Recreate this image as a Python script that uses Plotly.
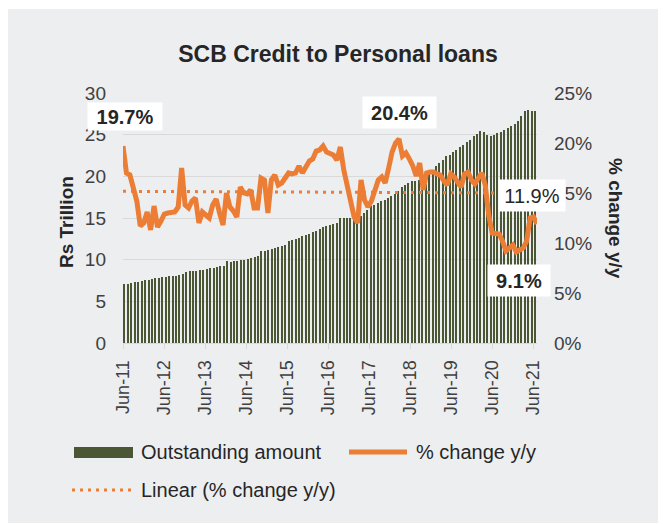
import numpy as np
import pandas as pd
import plotly.graph_objects as go

# ---------------- data ----------------
months = pd.date_range("2011-06-01", periods=121, freq="MS")

outstanding = [
    7.1, 7.1, 7.2, 7.3, 7.3, 7.4, 7.6, 7.6, 7.7, 7.8, 7.8, 7.9,
    7.9, 8.0, 8.0, 8.1, 8.2, 8.3, 8.5, 8.6, 8.6, 8.7, 8.8, 8.8,
    8.9, 9.0, 9.0, 9.1, 9.2, 9.3, 9.8, 9.7, 9.8, 9.9, 10.0, 10.0,
    10.1, 10.2, 10.3, 10.5, 11.0, 11.1, 11.2, 11.3, 11.4, 11.5, 11.6, 11.8,
    12.2, 12.4, 12.5, 12.6, 12.8, 13.0, 13.1, 13.3, 13.5, 13.7, 13.9, 14.0,
    14.2, 14.3, 14.4, 15.0, 15.0, 15.0, 15.0, 15.1, 15.1, 15.2, 15.6, 16.0,
    16.4, 16.6, 16.8, 17.0, 17.2, 17.4, 17.6, 17.9, 18.3, 18.7, 19.0, 19.2,
    19.4, 19.5, 19.6, 19.9, 20.2, 20.5, 20.8, 21.3, 21.6, 22.0, 22.4, 22.6,
    22.9, 23.2, 23.5, 23.8, 24.1, 24.4, 24.8, 25.1, 25.4, 25.3, 25.0, 24.9,
    25.0, 25.2, 25.3, 25.6, 25.8, 26.0, 26.3, 26.7, 27.3, 27.8, 28.0, 27.9,
    27.8,
]

pct_change = [
    19.7, 17.0, 16.8, 15.3, 14.2, 11.7, 12.0, 13.1, 11.3, 13.7, 11.6, 12.2,
    12.9, 13.0, 13.0, 13.1, 13.6, 17.5, 13.8, 13.5, 14.2, 14.5, 12.0, 13.1,
    12.8, 12.5, 13.8, 14.4, 13.0, 11.8, 15.0, 13.6, 13.2, 12.6, 15.6, 15.0,
    14.9, 15.3, 13.5, 13.5, 16.5, 16.3, 13.0, 16.3, 16.8, 15.8, 16.0, 16.5,
    17.0, 16.9, 17.0, 17.7, 17.0, 17.6, 18.2, 18.4, 19.2, 19.3, 19.7, 19.1,
    18.9, 18.8, 18.3, 19.6, 17.3, 15.6, 13.8, 12.6, 12.0, 16.3, 14.3, 13.6,
    14.2, 15.3, 16.3, 16.6, 16.0, 17.5, 19.1, 20.0, 20.4, 18.7, 19.0, 18.4,
    17.7, 16.7, 18.0, 15.3, 17.0, 17.1, 17.1, 16.9, 16.8, 16.2, 15.8, 16.9,
    16.6, 16.1, 15.6, 16.9, 17.1, 16.3, 15.9, 16.5, 17.0, 15.8, 12.8, 11.0,
    10.9, 10.9, 10.2, 9.2, 9.5, 9.8, 9.1, 9.3, 9.5, 10.2, 12.5, 12.6,
    11.9,
]

callout_labels = ["19.7%", "20.4%", "11.9%", "9.1%"]

title_text = "SCB Credit to Personal loans"
left_title = "Rs Trillion"
right_title = "% change y/y"
legend_names = ["Outstanding amount", "% change y/y", "Linear (% change y/y)"]

# ---------------- layout helpers ----------------
OFF = 8  # page body margin
W, H = 666 - OFF, 524 - OFF
L, R, T, B = 115, 129, 85, 181
PW, PH = W - L - R, H - T - B


def fx(px):
    return (px - OFF - L) / PW


def fy(py):
    return 1 - (py - OFF - T) / PH


FONT = "Arial, Liberation Sans, sans-serif"
ORANGE = "#EC7D35"
GREEN = "#4A5634"
GRID = "#D9D9D9"
TXT = "#262626"
TICK = "#404040"

idx = np.arange(len(pct_change))
slope, intercept = np.polyfit(idx, np.array(pct_change), 1)
trend = intercept + slope * idx

fig = go.Figure()

fig.add_trace(go.Bar(
    x=months, y=outstanding, name=legend_names[0],
    xperiod="M1", xperiodalignment="middle",
    width=0.42 * 30.44 * 86400000,
    marker=dict(color=GREEN, line=dict(width=0)),
    showlegend=False,
))

fig.add_trace(go.Scatter(
    x=idx, y=trend, name=legend_names[2], mode="lines",
    line=dict(color=ORANGE, width=3, dash="3px,5px"),
    xaxis="x2", yaxis="y2", showlegend=False,
))

fig.add_trace(go.Scatter(
    x=idx, y=pct_change, name=legend_names[1], mode="lines",
    line=dict(color=ORANGE, width=5),
    xaxis="x2", yaxis="y2", showlegend=False,
))

annotations = []
# callout label boxes: (center x, center y, width, height, bold) in page pixels
box = {
    "19.7%": (125, 116.5, 74, 27, True),
    "20.4%": (399.5, 112.5, 73, 31, True),
    "11.9%": (532, 195.5, 66, 31, False),
    "9.1%": (519, 280.5, 62, 31, True),
}
for txt in callout_labels:
    cx, cy, w, h, bold = box[txt]
    annotations.append(dict(
        xref="paper", yref="paper", x=fx(cx), y=fy(cy),
        xanchor="center", yanchor="middle",
        text=f"<b>{txt}</b>" if bold else txt, showarrow=False,
        bgcolor="white", borderpad=0, width=w, height=h,
        font=dict(family=FONT, size=20, color=TXT),
    ))

# axis titles
annotations.append(dict(
    xref="paper", yref="paper", x=fx(66), y=fy(222),
    xanchor="center", yanchor="middle", textangle=-90,
    text=f"<b>{left_title}</b>", showarrow=False,
    font=dict(family=FONT, size=19, color=TXT),
))
annotations.append(dict(
    xref="paper", yref="paper", x=fx(616), y=fy(218),
    xanchor="center", yanchor="middle", textangle=90,
    text=f"<b>{right_title}</b>", showarrow=False,
    font=dict(family=FONT, size=19, color=TXT),
))

# manual legend
legend_pos = [(139, 452), (414, 452), (139, 490)]
for name, (lx, ly) in zip(legend_names, legend_pos):
    annotations.append(dict(
        xref="paper", yref="paper", x=fx(lx), y=fy(ly),
        xanchor="left", yanchor="middle", text=name, showarrow=False,
        font=dict(family=FONT, size=20, color=TXT),
    ))

shapes = [
    dict(type="rect", xref="paper", yref="paper", layer="below",
         x0=fx(5), x1=fx(667), y0=fy(523), y1=fy(9),
         fillcolor="#EDEEF0", line=dict(width=0)),
    dict(type="rect", xref="paper", yref="paper",
         x0=fx(74), x1=fx(133), y0=fy(458), y1=fy(447),
         fillcolor=GREEN, line=dict(width=0)),
    dict(type="line", xref="paper", yref="paper",
         x0=fx(349), x1=fx(407), y0=fy(452), y1=fy(452),
         line=dict(color=ORANGE, width=5)),
    dict(type="line", xref="paper", yref="paper",
         x0=fx(72), x1=fx(131), y0=fy(490), y1=fy(490),
         line=dict(color=ORANGE, width=3, dash="3px,5px")),
]

fig.update_layout(
    width=W, height=H,
    margin=dict(l=L, r=R, t=T, b=B, autoexpand=False),
    paper_bgcolor="white",
    plot_bgcolor="rgba(0,0,0,0)",
    showlegend=False,
    bargap=0,
    font=dict(family=FONT, color=TICK),
    title=dict(
        text=f"<b>{title_text}</b>", xref="container", yref="container",
        x=(338 - OFF) / W, y=1 - (54 - OFF) / H,
        xanchor="center", yanchor="middle",
        font=dict(family=FONT, size=23, color=TXT),
    ),
    xaxis=dict(
        type="date",
        range=["2011-06-01", "2021-07-01"],
        tick0="2011-06-01", dtick="M12", tickformat="%b-%y",
        tickangle=-90, ticks="outside", ticklen=5, tickcolor=GRID,
        showline=True, linecolor=GRID, linewidth=1,
        showgrid=False, zeroline=False,
        tickfont=dict(family=FONT, size=18, color=TICK),
        ticklabelstandoff=4,
    ),
    xaxis2=dict(
        range=[0, 120], overlaying="x", visible=False, anchor="y2",
    ),
    yaxis=dict(
        range=[0, 30], dtick=5, tick0=0,
        showgrid=True, gridcolor=GRID, gridwidth=1,
        zeroline=False, showline=False, ticks="",
        tickfont=dict(family=FONT, size=19, color=TICK),
        ticklabelstandoff=16,
    ),
    yaxis2=dict(
        range=[0, 25], dtick=5, tick0=0, ticksuffix="%",
        overlaying="y", side="right", anchor="x",
        showgrid=False, zeroline=False, showline=False, ticks="",
        tickfont=dict(family=FONT, size=19, color=TICK),
        ticklabelstandoff=16,
    ),
    annotations=annotations,
    shapes=shapes,
)

fig.write_html("out.html")
